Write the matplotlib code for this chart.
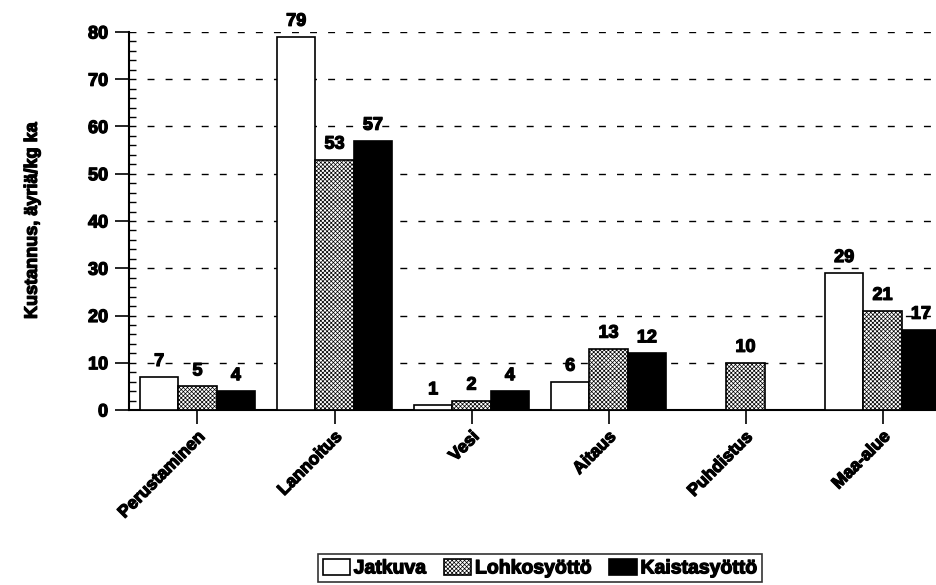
import numpy as np
import matplotlib
matplotlib.use("Agg")
import matplotlib.pyplot as plt
import matplotlib.patheffects as pe
from matplotlib.ticker import MultipleLocator

plt.rcParams['font.family'] = ['Liberation Sans', 'DejaVu Sans']
plt.rcParams['font.weight'] = 'bold'
plt.rcParams['hatch.linewidth'] = 0.5

categories = ["Perustaminen", "Lannoitus", "Vesi", "Aitaus", "Puhdistus", "Maa-alue"]
series = ["Jatkuva", "Lohkosyöttö", "Kaistasyöttö"]
jatkuva = [7, 79, 1, 6, 0, 29]
lohko = [5, 53, 2, 13, 10, 21]
kaista = [4, 57, 4, 12, 0, 17]
yticks = [0, 10, 20, 30, 40, 50, 60, 70, 80]

# thicken the bold font a bit, the scan uses a very heavy face
heavy = [pe.withStroke(linewidth=0.9, foreground='black')]

fig = plt.figure(figsize=(9.37, 5.85), dpi=100)
# axes runs a little past the right edge, like the cropped scan
ax = fig.add_axes([129/937, 175/585, 822/937, 378/585])

x = np.arange(len(categories))
w = 0.28
styles = [dict(facecolor='white', hatch=None),
          dict(facecolor='white', hatch='xxxxxxxx'),
          dict(facecolor='black', hatch=None)]
for k, vals in enumerate([jatkuva, lohko, kaista]):
    xs = x + (k - 1) * w
    ax.bar(xs, vals, w, edgecolor='black', linewidth=1.2,
           label=series[k], zorder=3, **styles[k])
    for xi, v in zip(xs, vals):
        if v > 0:
            ax.annotate(str(v), (xi, v), xytext=(0, 5), textcoords='offset points',
                        ha='center', va='bottom', fontsize=13, fontweight='bold',
                        path_effects=heavy)

ax.set_xlim(-0.5, 5.5)
ax.set_ylim(0, 80)
ax.set_yticks(yticks)
ax.yaxis.set_minor_locator(MultipleLocator(2))
ax.tick_params(axis='y', which='major', direction='out', length=10, width=1.2,
               labelsize=13, pad=5)
ax.tick_params(axis='y', which='minor', direction='in', length=5, width=1)
ax.tick_params(axis='x', direction='out', length=10, width=1.2, labelsize=12.5)
ax.set_xticks(x)
ax.set_xticklabels(categories, rotation=45, ha='right', rotation_mode='anchor')
for lab in ax.get_xticklabels() + ax.get_yticklabels():
    lab.set_path_effects(heavy)
for s in ['top', 'right']:
    ax.spines[s].set_visible(False)
ax.spines['left'].set_linewidth(1.5)
ax.spines['bottom'].set_linewidth(1.5)

ax.grid(axis='y', color='black', linestyle=(0, (5, 8)), linewidth=1, zorder=0)
ax.set_axisbelow(True)

ax.set_ylabel("Kustannus, äyriä/kg ka", fontsize=13, fontweight='bold', labelpad=34,
              path_effects=heavy)

leg = fig.legend(loc='center', bbox_to_anchor=(540/937, 1 - 568/585), ncol=3,
                 frameon=True, fancybox=False, edgecolor='black', fontsize=14,
                 handlelength=1.4, handleheight=0.9, handletextpad=0.2,
                 columnspacing=0.9, borderpad=0.25, borderaxespad=0)
leg.get_frame().set_linewidth(1.2)
for t in leg.get_texts():
    t.set_path_effects(heavy)

fig.savefig("out.png", dpi=100)
